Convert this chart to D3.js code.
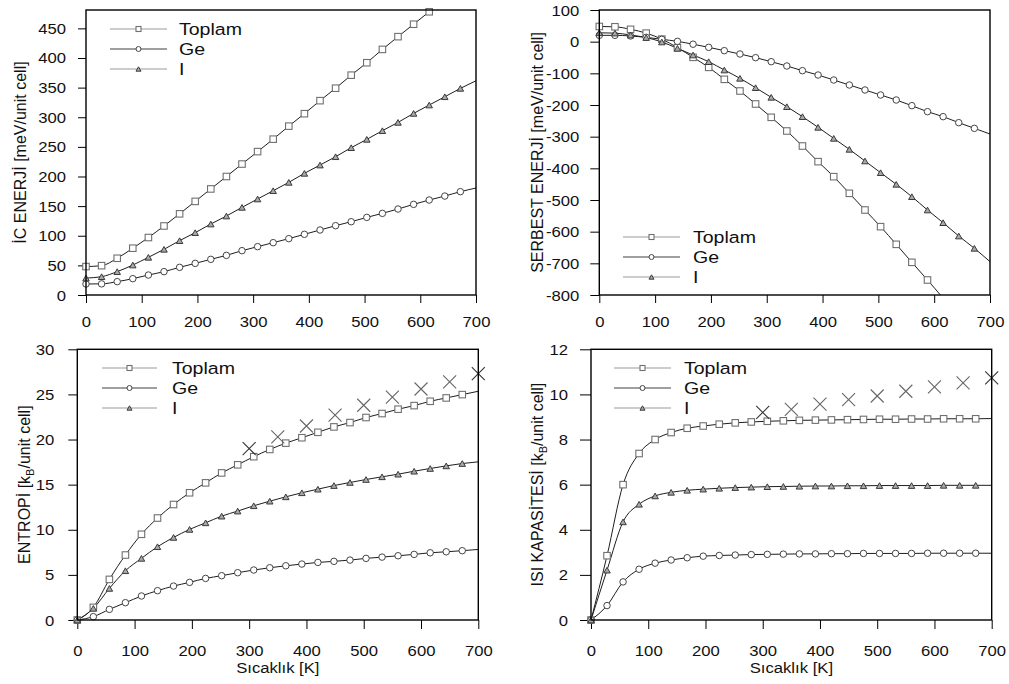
<!DOCTYPE html>
<html><head><meta charset="utf-8">
<script src="https://cdn.jsdelivr.net/npm/d3@7"></script>
<style>
body{margin:0;background:#fff}
text{font-family:"Liberation Sans",Arial,Helvetica,sans-serif;fill:#111}
</style>
</head><body>
<svg id="c" width="1009" height="684"></svg>
<script>
// ---------------- data ----------------
const temps = [0,28,56,84,112,140,168,196,224,252,280,308,336,364,392,420,448,476,504,532,560,588,616,644,672,700];
const markerCount = 25; // markers on 0..672, the curve continues to 700
const seriesNames = ["Toplam","Ge","I"];

const xTicks = [0,100,200,300,400,500,600,700];
const icTicks = [0,50,100,150,200,250,300,350,400,450];
const freeTicks = [-800,-700,-600,-500,-400,-300,-200,-100,0,100];
const entropyTicks = [0,5,10,15,20,25,30];
const heatTicks = [0,2,4,6,8,10,12];

// İç enerji [meV/unit cell]
const icToplam = [48,49.5,62,79,97,116.5,137,158,179,200,221,242,263,285,306,328,349,371,392,414.5,436,457,478,500,522,542];
const icGe     = [18.6,18.8,22.5,27.6,33.7,39.4,46.7,53.4,60.2,66.9,74.8,81.6,88.3,95.1,102.4,109.7,117,123.7,131,137.8,145.1,153,160.3,167,174.4,180.5];
const icI      = [28.6,30.9,39.4,50.6,63.6,77.1,91.7,105.2,119.8,133.3,147.9,162,176,190.1,205.3,219.3,233.4,248.6,262.7,277.3,291.3,306.5,320.6,334.6,348.7,361.6];

// Serbest enerji [meV/unit cell]
const freeToplam = [48,47,39,27,8,-19,-49.5,-81.1,-118.9,-155.8,-196.8,-238.9,-282.1,-329.5,-378.9,-426.3,-478.9,-531.6,-584.2,-640,-696.8,-752.6,-810,-870,-930,-988];
const freeGe     = [20,20,18,13.7,7.4,1,-8,-17.9,-28.4,-38.9,-50.5,-63.2,-76.8,-91.6,-105.3,-121.1,-136.8,-152.6,-168.4,-184.2,-202.1,-221.1,-236.8,-255.8,-273.7,-291.6];
const freeI      = [28,27,21,13,-1,-21.1,-42.1,-63.2,-89.5,-115.8,-145.3,-175.8,-205.3,-236.8,-270.5,-305.3,-340,-376.8,-413.7,-450.5,-489.5,-531.6,-571.6,-613.7,-652.6,-694.7];

// Entropi [kB/unit cell]
const entToplam = [0,1.4,4.5,7.2,9.5,11.3,12.8,14.1,15.2,16.3,17.2,18.1,18.9,19.6,20.2,20.8,21.4,21.88,22.44,22.88,23.36,23.76,24.24,24.61,24.98,25.35];
const entGe     = [0,0.37,1.18,1.92,2.66,3.25,3.76,4.17,4.61,4.91,5.24,5.54,5.79,6.01,6.2,6.38,6.5,6.64,6.83,6.97,7.12,7.27,7.45,7.56,7.68,7.82];
const entI      = [0,1.29,3.5,5.46,6.83,8.12,9.15,10.04,10.77,11.51,12.07,12.66,13.17,13.65,14.1,14.5,14.9,15.24,15.57,15.87,16.16,16.49,16.79,17.08,17.34,17.53];

// Isı kapasitesi [kB/unit cell]
const hcToplam = [0,2.85,6.0,7.38,8.0,8.31,8.5,8.6,8.68,8.74,8.78,8.81,8.83,8.85,8.86,8.87,8.88,8.89,8.9,8.9,8.91,8.91,8.92,8.92,8.92,8.93];
const hcGe     = [0,0.64,1.69,2.25,2.52,2.66,2.76,2.83,2.86,2.88,2.9,2.91,2.92,2.93,2.93,2.94,2.94,2.95,2.95,2.95,2.95,2.96,2.96,2.96,2.96,2.96];
const hcI      = [0,2.21,4.35,5.13,5.5,5.66,5.75,5.8,5.84,5.87,5.89,5.91,5.92,5.93,5.94,5.94,5.95,5.95,5.96,5.96,5.96,5.96,5.97,5.97,5.97,5.97];

// × markers
const crossTemps = [300,350,400,450,500,550,600,650,700];
const entCross = [19.0,20.3,21.5,22.7,23.8,24.7,25.6,26.4,27.3];
const hcCross  = [9.2,9.34,9.57,9.77,9.93,10.14,10.33,10.51,10.73];

// ---------------- layout ----------------
const panels = [
  {x0:86, x1:476, y0:10, y1:295, yDomain:[0,481], yTicks:icTicks, data:[icToplam,icGe,icI],
   tickLen:8, labOff:20, xTickLen:8, xLabOff:32, title:["İC ENERJİ [meV/unit cell]"], titleX:26,
   legend:{x0:110,x1:167,tx:179,ys:[29,49,69]}},
  {x0:599.3, x1:990, y0:10, y1:295, yDomain:[-800,100], yTicks:freeTicks, data:[freeToplam,freeGe,freeI],
   tickLen:9, labOff:20, xTickLen:8, xLabOff:32, title:["SERBEST ENERJİ [meV/unit cell]"], titleX:543,
   legend:{x0:623,x1:680,tx:693,ys:[237,257,277]}},
  {x0:77.3, x1:478.3, y0:349.3, y1:620, yDomain:[0,30], yTicks:entropyTicks, data:[entToplam,entGe,entI],
   tickLen:9, labOff:23, xTickLen:9, xLabOff:35.5, title:["ENTROPİ [k","B","/unit cell]"], titleX:30,
   legend:{x0:102,x1:157,tx:172,ys:[368,388,408]}, cross:entCross, xTitle:"Sıcaklık [K]"},
  {x0:591, x1:991.7, y0:349.3, y1:620, yDomain:[0,12], yTicks:heatTicks, data:[hcToplam,hcGe,hcI],
   tickLen:11, labOff:23, xTickLen:9, xLabOff:35.5, title:["ISI KAPASİTESİ [k","B","/unit cell]"], titleX:543,
   legend:{x0:614,x1:671,tx:684,ys:[368,388,408]}, cross:hcCross, xTitle:"Sıcaklık [K]"}
];

const styles = [
  {shape:"square", stroke:"#707070", fill:"#fff", legendLine:"#9a9a9a"},
  {shape:"circle", stroke:"#454545", fill:"none", legendLine:"#404040"},
  {shape:"triangle", stroke:"#3a3a3a", fill:"#a8a8a8", legendLine:"#9a9a9a"}
];
const SX = 1.15;

const svg = d3.select("#c");

function drawMarker(g, shape, cx, cy, s, st){
  if(shape==="square"){
    g.append("rect").attr("x",cx-s/2).attr("y",cy-s/2).attr("width",s).attr("height",s)
      .attr("fill",st.fill).attr("stroke",st.stroke).attr("stroke-width",1.1);
  } else if(shape==="circle"){
    g.append("circle").attr("cx",cx).attr("cy",cy).attr("r",s/2)
      .attr("fill","#fff").attr("stroke",st.stroke).attr("stroke-width",1);
  } else {
    const h = s*0.87;
    g.append("path").attr("d",`M${cx-s/2},${cy+h/2}L${cx+s/2},${cy+h/2}L${cx},${cy-h/2}Z`)
      .attr("fill",st.fill).attr("stroke",st.stroke).attr("stroke-width",1);
  }
}

panels.forEach((p,pi)=>{
  const x = d3.scaleLinear().domain([0,700]).range([p.x0,p.x1]);
  const y = d3.scaleLinear().domain(p.yDomain).range([p.y1,p.y0]);
  const g = svg.append("g");

  const clipId = "clip"+pi;
  svg.append("clipPath").attr("id",clipId).append("rect")
    .attr("x",p.x0).attr("y",p.y0).attr("width",p.x1-p.x0).attr("height",p.y1-p.y0);

  // axes
  const ya = g.append("g").attr("transform",`translate(${p.x0},0)`)
    .call(d3.axisLeft(y).tickValues(p.yTicks).tickSize(p.tickLen).tickFormat(d=>String(d)));
  const xa = g.append("g").attr("transform",`translate(0,${p.y1})`)
    .call(d3.axisBottom(x).tickValues(xTicks).tickSize(p.xTickLen).tickFormat(d=>String(d)));
  [ya,xa].forEach(a=>{
    a.select(".domain").remove();
    a.attr("font-family",null).attr("font-size",null);
    a.selectAll("line").attr("stroke","#000").attr("stroke-width",1);
  });
  ya.selectAll("text").attr("x",null).attr("dy",null).attr("text-anchor","end")
    .attr("font-size",14.5).attr("transform",`translate(${-p.labOff},5) scale(${SX},1)`);
  xa.selectAll("text").attr("y",null).attr("dy",null).attr("text-anchor","middle")
    .attr("font-size",14.5).attr("transform",`translate(0,${p.xLabOff}) scale(${SX},1)`);

  // curves
  const line = d3.line().x((d,i)=>x(temps[i])).y(d=>y(d)).curve(d3.curveMonotoneX);
  p.data.forEach((arr,si)=>{
    g.append("path").attr("d",line(arr)).attr("fill","none")
      .attr("stroke","#1e1e1e").attr("stroke-width",1).attr("clip-path",`url(#${clipId})`);
  });
  // markers
  p.data.forEach((arr,si)=>{
    const mg = g.append("g");
    arr.forEach((v,i)=>{
      if(i>=markerCount) return;
      if(v<p.yDomain[0]-0.001 || v>p.yDomain[1]+0.001) return;
      drawMarker(mg, styles[si].shape, x(temps[i]), y(v), 6.5, styles[si]);
    });
  });
  // crosses
  if(p.cross){
    const cg = g.append("g");
    p.cross.forEach((v,i)=>{
      const cx=x(crossTemps[i]), cy=y(v), h=6.5;
      cg.append("path").attr("d",`M${cx-h},${cy-h}L${cx+h},${cy+h}M${cx-h},${cy+h}L${cx+h},${cy-h}`)
        .attr("stroke",i===0||i===crossTemps.length-1?"#333":"#666").attr("stroke-width",1.1).attr("fill","none");
    });
  }

  // box
  g.append("rect").attr("x",p.x0).attr("y",p.y0).attr("width",p.x1-p.x0).attr("height",p.y1-p.y0)
    .attr("fill","none").attr("stroke","#000").attr("stroke-width",1.4);

  // legend
  const L = p.legend;
  seriesNames.forEach((name,si)=>{
    const ly = L.ys[si];
    g.append("line").attr("x1",L.x0).attr("x2",L.x1).attr("y1",ly).attr("y2",ly)
      .attr("stroke",styles[si].legendLine).attr("stroke-width",1.2);
    drawMarker(g, styles[si].shape, (L.x0+L.x1)/2, ly, 5, styles[si]);
    g.append("text").attr("font-size",17).attr("transform",`translate(${L.tx},${ly+6}) scale(${SX},1)`).text(name);
  });

  // y title
  const cy = (p.y0+p.y1)/2;
  const t = g.append("text").attr("font-size",16).attr("text-anchor","middle")
    .attr("transform",`translate(${p.titleX},${cy}) rotate(-90)`);
  if(p.title.length===1){ t.text(p.title[0]); }
  else {
    t.append("tspan").text(p.title[0]);
    t.append("tspan").attr("font-size",11).attr("dy",4).text(p.title[1]);
    t.append("tspan").attr("dy",-4).text(p.title[2]);
  }
  // x title
  if(p.xTitle){
    g.append("text").attr("font-size",14.5).attr("text-anchor","middle")
      .attr("transform",`translate(${(p.x0+p.x1)/2},673) scale(${SX},1)`).text(p.xTitle);
  }
});
</script>
</body></html>
